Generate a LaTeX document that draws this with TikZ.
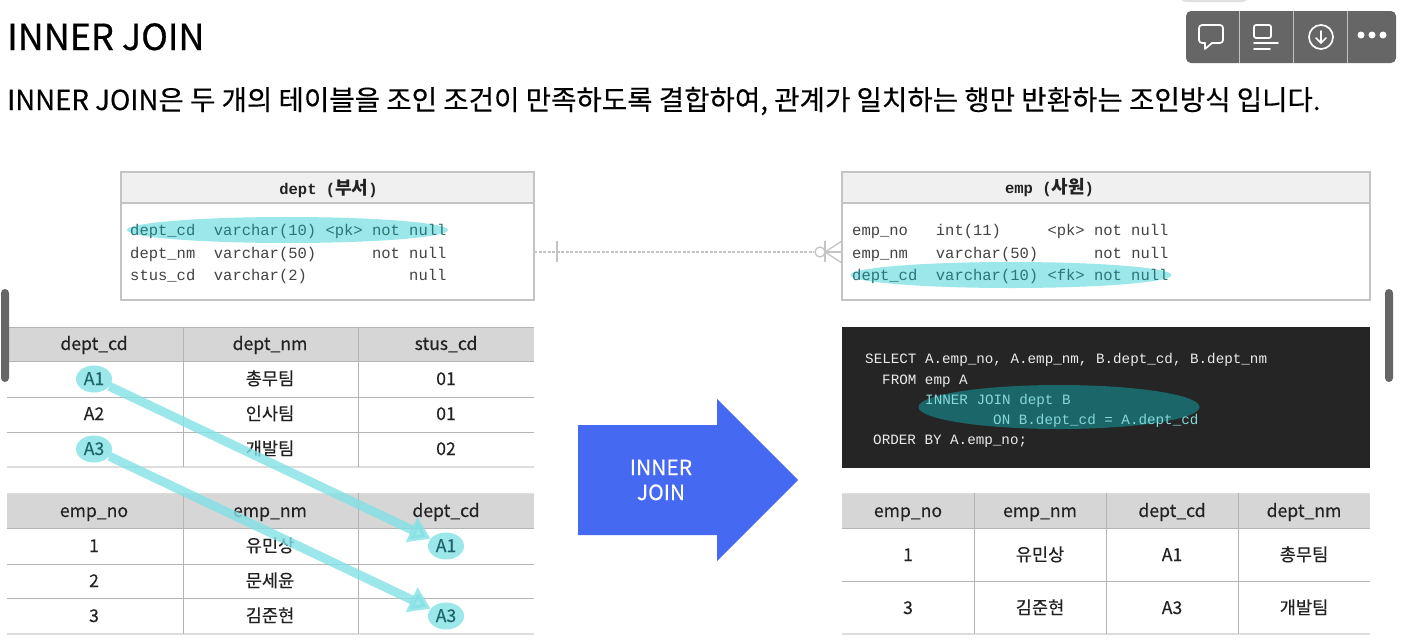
\documentclass[tikz,border=0pt]{standalone}
\usepackage{fontspec}
\setmainfont{Noto Sans CJK KR}
\setmonofont{Liberation Mono}
\newfontfamily\krfont{Noto Sans CJK KR}
\newfontfamily\krheavy[FakeBold=0.6]{Noto Sans CJK KR}
\newfontfamily\krcell[FakeBold=0.25]{Noto Sans CJK KR}
\usetikzlibrary{arrows.meta,shapes.geometric}
\definecolor{ink}{HTML}{222222}
\definecolor{hilite}{HTML}{82E1E5}
\definecolor{erhilite}{HTML}{9BE7EA}
\definecolor{ermarktext}{HTML}{2C7478}
\definecolor{cellmarktext}{HTML}{1F6468}
\definecolor{headgray}{HTML}{D6D6D6}
\definecolor{erline}{HTML}{C4C4C4}
\definecolor{gridline}{HTML}{B4B4B4}
\definecolor{softline}{HTML}{DDDDDD}
\definecolor{sqlback}{HTML}{252525}
\definecolor{sqlmark}{HTML}{1A6669}
\definecolor{sqltext}{HTML}{86D8DA}
\definecolor{bluearrow}{HTML}{4669F2}
\definecolor{toolgray}{HTML}{666666}
\tikzset{
  cell/.style={font=\fontsize{17.6}{20}\krcell, text=ink, text height=15pt, text depth=3pt, inner sep=0pt},
  headcell/.style={cell},
  markcell/.style={cell, ellipse, fill=erhilite, text=cellmarktext, minimum width=36pt, minimum height=27pt},
  erbox/.style={draw=erline, line width=1.3pt, fill=white, inner sep=0pt},
  erbar/.style={draw=erline, line width=1.3pt, fill=black!6, inner sep=0pt},
  ertitle/.style={font=\fontsize{15.5}{18}\selectfont\ttfamily\bfseries, text=ink, inner sep=0pt},
  errow/.style={anchor=base west, font=\fontsize{15.5}{18}\selectfont\ttfamily, text=ink!85, inner sep=0pt},
  ermark/.style={ellipse, fill=erhilite, inner sep=0pt, minimum height=26pt},
  sqlrow/.style={anchor=base west, font=\fontsize{14.25}{18}\selectfont\ttfamily, text=white!92!black, inner sep=0pt},
  linkarrow/.style={draw=hilite, line width=9pt, opacity=.8, -{Triangle[length=21pt,width=26pt]}},
  tool/.style={draw=white, line width=1.7pt, line cap=round, line join=round}
}
\begin{document}
\begin{tikzpicture}[x=1pt,y=-1pt]
\useasboundingbox (0,0) rectangle (1404,640);
\fill[white] (0,0) rectangle (1404,640);

\fill[black!12, rounded corners=6pt] (1180,-8) rectangle (1248,2);
\fill[toolgray, rounded corners=5pt] (1186,11) rectangle (1396,63);
\draw[white!60!toolgray, line width=1pt] (1239,11) -- (1239,63);
\draw[white!60!toolgray, line width=1pt] (1293,11) -- (1293,63);
\draw[white!60!toolgray, line width=1pt] (1347,11) -- (1347,63);
\draw[tool, rounded corners=3pt] (1205,43) -- (1199,43) -- (1199,25) -- (1223,25) -- (1223,43) -- (1212,43);
\draw[tool] (1205,43) -- (1205,49) -- (1212,43);
\draw[tool, rounded corners=2pt] (1254,25) rectangle (1271,38);
\draw[tool] (1254,43) -- (1278,43);
\draw[tool] (1254,49) -- (1270,49);
\draw[tool] (1321,37) circle (12);
\draw[tool] (1321,31) -- (1321,43);
\draw[tool] (1316,38) -- (1321,43) -- (1326,38);
\fill[white] (1361,35) circle (3.5);
\fill[white] (1372,35) circle (3.5);
\fill[white] (1383,35) circle (3.5);

\node[anchor=base west, inner sep=0pt, font=\fontsize{36}{40}\krheavy, text=black] (title) at (7,50) {INNER JOIN};
\node[anchor=base west, inner sep=0pt, font=\fontsize{27.6}{32}\krcell, text=black] (subtitle) at (7,110) {INNER JOIN은 두 개의 테이블을 조인 조건이 만족하도록 결합하여, 관계가 일치하는 행만 반환하는 조인방식 입니다.};

\coordinate (deptport) at (534,252);
\node[circle, draw=erline, line width=1.3pt, inner sep=0pt, minimum size=10pt] (empring) at (820,252) {};
\draw[erline, line width=1.3pt, dashed, dash pattern=on 3pt off 1.5pt] (deptport) -- (empring);
\draw[erline, line width=1.3pt] (557,241) -- (557,262);
\draw[erline, line width=1.3pt] (825,241) -- (825,262);
\draw[erline, line width=1.3pt] (842,241) -- (825,252) -- (842,263);
\draw[erline, line width=1.3pt] (825,252) -- (842,252);

\node[erbox, minimum width=413pt, minimum height=128pt] (deptbox) at (327.5,236) {};
\node[erbar, minimum width=413pt, minimum height=31pt] (deptbar) at (327.5,187.5) {};
\node[ertitle] (depttitle) at (328.5,188) {dept ({\krfont\fontsize{18}{18}\selectfont 부서})};
\node[ermark, minimum width=321pt] (deptmark) at (287.5,230) {};
\node[errow, text=ermarktext] (deptrowa) at (130,235) {dept\_cd~~varchar(10)~<pk>~not~null};
\node[errow] (deptrowb) at (130,258) {dept\_nm~~varchar(50)~~~~~~not~null};
\node[errow] (deptrowc) at (130,280) {stus\_cd~~varchar(2)~~~~~~~~~~~null};

\node[erbox, minimum width=528pt, minimum height=128pt] (empbox) at (1106,236) {};
\node[erbar, minimum width=528pt, minimum height=31pt] (empbar) at (1106,187.5) {};
\node[ertitle] (emptitle) at (1049.5,188) {emp ({\krfont\fontsize{18}{18}\selectfont 사원})};
\node[ermark, minimum width=321pt] (empmark) at (1011,275) {};
\node[errow] (emprowa) at (852,235) {emp\_no~~~int(11)~~~~~<pk>~not~null};
\node[errow] (emprowb) at (852,258) {emp\_nm~~~varchar(50)~~~~~~not~null};
\node[errow, text=ermarktext] (emprowc) at (852,280) {dept\_cd~~varchar(10)~<fk>~not~null};

\fill[headgray] (7,327) rectangle (534,361);
\draw[gridline] (7,327) -- (534,327);
\draw[gridline] (7,361) -- (534,361);
\draw[gridline] (7,397) -- (534,397);
\draw[gridline] (7,432) -- (534,432);
\draw[softline, line width=1.5pt] (7,467) -- (534,467);
\draw[gridline] (183,327) -- (183,467);
\draw[gridline] (358,327) -- (358,467);
\node[headcell] (depthcd) at (94,344) {dept\_cd};
\node[headcell] (depthnm) at (270,344) {dept\_nm};
\node[headcell] (depthst) at (446,344) {stus\_cd};
\node[markcell] (deptaone) at (94,379) {A1};
\node[cell] (deptatwo) at (94,414) {A2};
\node[markcell] (deptathree) at (94,449) {A3};
\node[cell] (deptnma) at (270,379) {총무팀};
\node[cell] (deptnmb) at (270,414) {인사팀};
\node[cell] (deptnmc) at (270,449) {개발팀};
\node[cell] (deptsta) at (446,379) {01};
\node[cell] (deptstb) at (446,414) {01};
\node[cell] (deptstc) at (446,449) {02};

\fill[headgray] (7,493) rectangle (534,528);
\draw[softline] (7,493) -- (534,493);
\draw[gridline] (7,528) -- (534,528);
\draw[gridline] (7,564) -- (534,564);
\draw[gridline] (7,598) -- (534,598);
\draw[softline, line width=1.5pt] (7,634) -- (534,634);
\draw[gridline] (183,493) -- (183,634);
\draw[gridline] (358,493) -- (358,634);
\node[headcell] (emphno) at (94,511) {emp\_no};
\node[headcell] (emphnm) at (270,511) {emp\_nm};
\node[headcell] (emphcd) at (446,511) {dept\_cd};
\node[cell] (empnoa) at (94,546) {1};
\node[cell] (empnob) at (94,581) {2};
\node[cell] (empnoc) at (94,616) {3};
\node[cell] (empnma) at (270,546) {유민상};
\node[cell] (empnmb) at (270,581) {문세윤};
\node[cell] (empnmc) at (270,616) {김준현};
\node[markcell] (empaone) at (446,546) {A1};
\node[markcell] (empathree) at (446,616) {A3};

\draw[linkarrow] (deptaone) -- (empaone);
\draw[linkarrow] (deptathree) -- (empathree);

\fill[bluearrow] (578,425) -- (717,425) -- (717,399) -- (798,480) -- (717,561) -- (717,535) -- (578,535) -- cycle;
\node[font=\fontsize{21}{25}\krcell, text=white, align=center, inner sep=0pt] (joinlabel) at (661,480) {INNER\\JOIN};

\node[fill=sqlback, minimum width=528pt, minimum height=141pt, inner sep=0pt] (sqlbox) at (1106,397) {};
\node[ellipse, fill=sqlmark, inner sep=0pt, minimum width=281pt, minimum height=44pt] (sqlmark) at (1059,407) {};
\node[sqlrow] (sqla) at (865,363) {SELECT A.emp\_no, A.emp\_nm, B.dept\_cd, B.dept\_nm};
\node[sqlrow] (sqlb) at (882,384) {FROM emp A};
\node[sqlrow, text=sqltext] (sqlc) at (925,404) {INNER JOIN dept B};
\node[sqlrow, text=sqltext] (sqld) at (993,424) {ON B.dept\_cd = A.dept\_cd};
\node[sqlrow] (sqle) at (873,444) {ORDER BY A.emp\_no;};

\fill[headgray] (842,493) rectangle (1370,528);
\draw[softline] (842,493) -- (1370,493);
\draw[gridline] (842,528) -- (1370,528);
\draw[gridline] (842,581) -- (1370,581);
\draw[softline, line width=1.5pt] (842,634) -- (1370,634);
\draw[gridline] (974,493) -- (974,634);
\draw[gridline] (1106,493) -- (1106,634);
\draw[gridline] (1238,493) -- (1238,634);
\node[headcell] (reshno) at (908,511) {emp\_no};
\node[headcell] (reshnm) at (1040,511) {emp\_nm};
\node[headcell] (reshcd) at (1172,511) {dept\_cd};
\node[headcell] (reshdn) at (1304,511) {dept\_nm};
\node[cell] (resnoa) at (908,555) {1};
\node[cell] (resnma) at (1040,555) {유민상};
\node[cell] (rescda) at (1172,555) {A1};
\node[cell] (resdna) at (1304,555) {총무팀};
\node[cell] (resnob) at (908,608) {3};
\node[cell] (resnmb) at (1040,608) {김준현};
\node[cell] (rescdb) at (1172,608) {A3};
\node[cell] (resdnb) at (1304,608) {개발팀};

\fill[toolgray, rounded corners=4pt] (1,289) rectangle (9,382);
\fill[toolgray, rounded corners=4pt] (1385,289) rectangle (1393,382);
\end{tikzpicture}
\end{document}
